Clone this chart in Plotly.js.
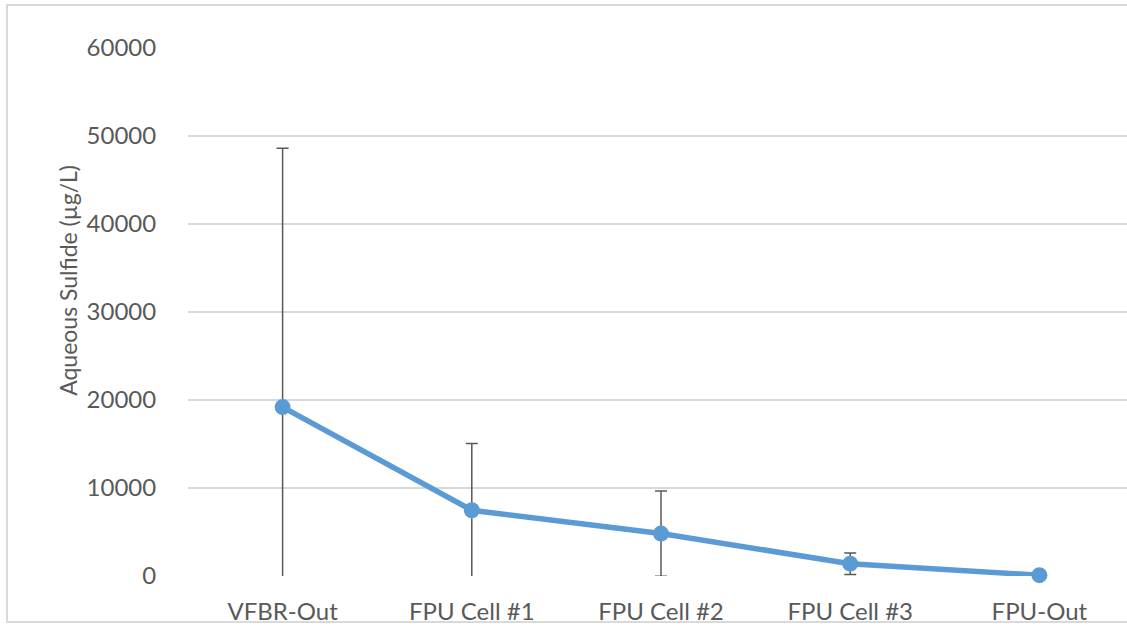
<!DOCTYPE html>
<html>
<head>
<meta charset="utf-8">
<script src="https://cdn.plot.ly/plotly-3.0.1.min.js"></script>
<style>
  html, body { margin: 0; padding: 0; overflow: hidden; background: #ffffff; width: 1127px; height: 626px; }
  #frame { position: absolute; left: 6px; top: 4px; width: 1140px; height: 619px; border: 2px solid #d9d9d9; box-sizing: border-box; }
  #chart { position: absolute; left: 0; top: 0; width: 1145px; height: 626px; }
</style>
</head>
<body>
<div id="frame"></div>
<div id="chart"></div>
<script>
const categories = ["VFBR-Out", "FPU Cell #1", "FPU Cell #2", "FPU Cell #3", "FPU-Out"];
const sulfide = [19200, 7470, 4820, 1400, 90];
const sulfideErr = [29400, 7580, 4840, 1220, 0];
const yTicks = [0, 10000, 20000, 30000, 40000, 50000, 60000];
const yTitle = "Aqueous Sulfide (µg/L)";

const trace = {
  x: categories,
  y: sulfide,
  type: "scatter",
  mode: "lines+markers",
  cliponaxis: false,
  line: { color: "#5b9bd5", width: 5.5 },
  marker: { color: "#5b9bd5", size: 16 },
  error_y: { type: "data", array: sulfideErr, visible: true, color: "#595959", thickness: 1.5, width: 6 },
  showlegend: false,
  hoverinfo: "x+y"
};

const layout = {
  width: 1145,
  height: 626,
  margin: { l: 188, r: 11, t: 48, b: 50 },
  paper_bgcolor: "rgba(0,0,0,0)",
  plot_bgcolor: "rgba(0,0,0,0)",
  font: { family: "Lato, 'Open Sans', sans-serif", color: "#595959", size: 22 },
  xaxis: {
    type: "category",
    range: [-0.5, 4.5],
    showgrid: false,
    zeroline: false,
    showline: false,
    ticks: "outside",
    ticklen: 14,
    tickcolor: "rgba(0,0,0,0)",
    tickfont: { size: 24, color: "#595959" }
  },
  yaxis: {
    range: [0, 60000],
    tickvals: yTicks,
    ticktext: yTicks.map(String),
    showgrid: true,
    gridcolor: "#d9d9d9",
    gridwidth: 1.5,
    zeroline: false,
    showline: false,
    ticks: "outside",
    ticklen: 26,
    tickcolor: "rgba(0,0,0,0)",
    tickfont: { size: 24, color: "#595959" }
  },
  annotations: [{
    text: yTitle,
    textangle: -90,
    xref: "paper", yref: "paper",
    x: 0, y: 0.559,
    xanchor: "center", yanchor: "middle",
    xshift: -120,
    showarrow: false,
    font: { size: 23, color: "#595959" }
  }]
};

Plotly.newPlot("chart", [trace], layout, { displayModeBar: false, staticPlot: true });
</script>
</body>
</html>
